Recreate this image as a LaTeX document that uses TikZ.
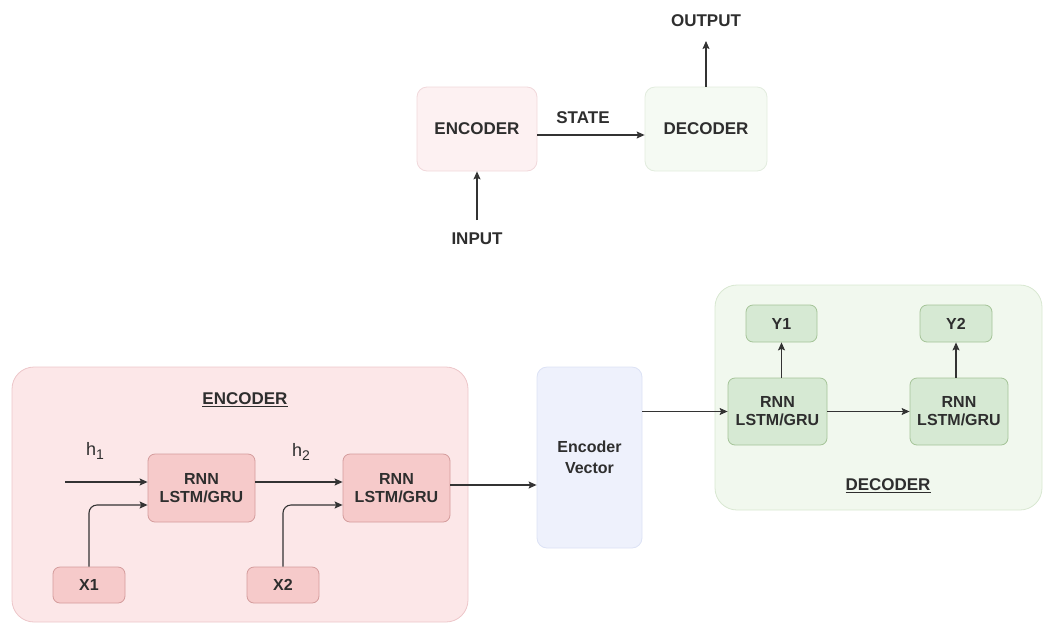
\documentclass[tikz,border=0pt]{standalone}
\usepackage{fontspec}
\setmainfont{Liberation Sans}
\usetikzlibrary{arrows.meta}
\definecolor{txt}{HTML}{2E2E2E}
\definecolor{ln}{HTML}{333333}
\definecolor{encTopFill}{HTML}{FDF1F2}
\definecolor{encTopLine}{HTML}{F1D8DB}
\definecolor{decTopFill}{HTML}{F5FAF3}
\definecolor{decTopLine}{HTML}{E2ECDE}
\definecolor{encBgFill}{HTML}{FCE7E8}
\definecolor{encBgLine}{HTML}{EDC6C9}
\definecolor{rnnPink}{HTML}{F6CACA}
\definecolor{rnnPinkLine}{HTML}{D49C9C}
\definecolor{decBgFill}{HTML}{F1F8EE}
\definecolor{decBgLine}{HTML}{D8E7D1}
\definecolor{rnnGreen}{HTML}{D6E9D3}
\definecolor{rnnGreenLine}{HTML}{A5C498}
\definecolor{vecFill}{HTML}{EEF1FC}
\definecolor{vecLine}{HTML}{DCE2F5}
\newcommand{\hsub}[1]{h\raisebox{-4pt}{\fontsize{14}{14}\selectfont #1}}
\tikzset{
  box/.style={rectangle, rounded corners=10pt, draw, line width=0.8pt, align=center,
              font=\fontsize{17}{19}\selectfont\bfseries, text=txt, inner sep=0pt},
  cell/.style={rectangle, rounded corners=7pt, draw, line width=0.8pt, align=center,
              font=\fontsize{16}{18}\selectfont\bfseries, text=txt, inner sep=0pt},
  lbl/.style={font=\fontsize{17}{19}\selectfont\bfseries, text=txt, inner sep=0pt},
  hlbl/.style={font=\fontsize{18}{20}\selectfont, text=txt, inner sep=0pt},
  arr/.style={draw=ln, line width=1.1pt, -{Stealth[length=8pt,width=7pt,inset=1.5pt]}},
}
\begin{document}
\begin{tikzpicture}[x=1pt,y=-1pt]
\useasboundingbox (0,0) rectangle (1061,625);

% simple encoder / decoder overview
\node[box, fill=encTopFill, draw=encTopLine, minimum width=120pt, minimum height=84pt] (encT) at (477,129) {ENCODER};
\node[box, fill=decTopFill, draw=decTopLine, minimum width=122pt, minimum height=84pt] (decT) at (706,129) {DECODER};
\node[lbl] (state) at (583,118) {STATE};
\node[lbl] (output) at (706,21) {OUTPUT};
\node[lbl] (input) at (477,239) {INPUT};
\coordinate (inS) at (477,220);
\coordinate (outE) at (706,41);
\draw[arr] ([yshift=-6pt]encT.east) -- ([yshift=-6pt]decT.west);
\draw[arr] (inS) -- (encT.south);
\draw[arr] (decT.north) -- (outE);

% encoder side
\node[rectangle, rounded corners=22pt, fill=encBgFill, draw=encBgLine, line width=0.8pt,
      minimum width=456pt, minimum height=255pt] (encBg) at (240,494.5) {};
\node[lbl, font=\fontsize{17}{19}\selectfont\bfseries] (encLbl) at (245,400) {\underline{ENCODER}};
\node[cell, fill=rnnPink, draw=rnnPinkLine, minimum width=107pt, minimum height=68pt] (r1) at (201.5,488) {RNN\\LSTM/GRU};
\node[cell, fill=rnnPink, draw=rnnPinkLine, minimum width=107pt, minimum height=68pt] (r2) at (396.5,488) {RNN\\LSTM/GRU};
\node[cell, fill=rnnPink, draw=rnnPinkLine, minimum width=72pt, minimum height=36pt] (x1) at (89,585) {X1};
\node[cell, fill=rnnPink, draw=rnnPinkLine, minimum width=72pt, minimum height=36pt] (x2) at (283,585) {X2};
\node[hlbl] (h1) at (95,451) {\hsub{1}};
\node[hlbl] (h2) at (301,452) {\hsub{2}};
\coordinate (hS) at (65,482);
\draw[arr] (hS) -- (hS -| r1.west);
\draw[arr, rounded corners=8pt] (x1.north) |- ([yshift=-17pt]r1.west);
\draw[arr, rounded corners=8pt] (x2.north) |- ([yshift=-17pt]r2.west);
\draw[arr] ([yshift=6pt]r1.east) -- ([yshift=6pt]r2.west);

% encoder vector
\node[box, fill=vecFill, draw=vecLine, minimum width=105pt, minimum height=181pt,
      font=\fontsize{16}{21}\selectfont\bfseries] (vec) at (589.5,457.5) {Encoder\\Vector};
\draw[arr] ([yshift=3pt]r2.east) -- ([yshift=3pt]r2.east -| vec.west);

% decoder side
\node[rectangle, rounded corners=22pt, fill=decBgFill, draw=decBgLine, line width=0.8pt,
      minimum width=327pt, minimum height=225pt] (decBg) at (878.5,397.5) {};
\node[lbl, font=\fontsize{17}{19}\selectfont\bfseries] (decLbl) at (888,486) {\underline{DECODER}};
\node[cell, fill=rnnGreen, draw=rnnGreenLine, minimum width=99pt, minimum height=67pt] (d1) at (777.5,411.5) {RNN\\LSTM/GRU};
\node[cell, fill=rnnGreen, draw=rnnGreenLine, minimum width=98pt, minimum height=67pt] (d2) at (959,411.5) {RNN\\LSTM/GRU};
\node[cell, fill=rnnGreen, draw=rnnGreenLine, minimum width=71pt, minimum height=37pt] (y1) at (781.5,323.5) {Y1};
\node[cell, fill=rnnGreen, draw=rnnGreenLine, minimum width=72pt, minimum height=37pt] (y2) at (956,323.5) {Y2};
\draw[arr] (vec.east |- d1.west) -- (d1.west);
\draw[arr] (d1.east) -- (d2.west);
\draw[arr] (d1.north -| y1.south) -- (y1.south);
\draw[arr] (d2.north -| y2.south) -- (y2.south);
\end{tikzpicture}
\end{document}
